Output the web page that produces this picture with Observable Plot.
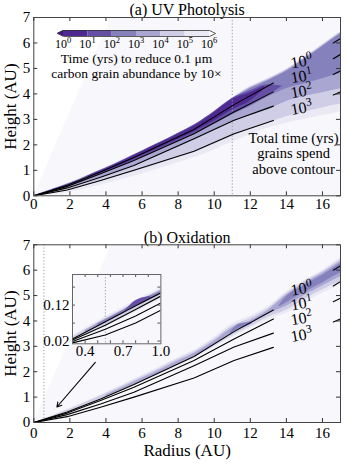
<!DOCTYPE html>
<html><head><meta charset="utf-8">
<script src="https://cdn.jsdelivr.net/npm/d3@7"></script>
<script src="https://cdn.jsdelivr.net/npm/@observablehq/plot@0.6"></script>
<style>
body{margin:0;background:#fff;}
#wrap{position:relative;width:348px;height:464px;overflow:hidden;font-family:"Liberation Serif","Times New Roman",serif;}
#wrap svg{position:absolute;font-family:"Liberation Serif","Times New Roman",serif;}
#wrap svg text{font-family:"Liberation Serif","Times New Roman",serif;}
</style></head><body><div id="wrap"></div>
<script>
// ---------- data ----------
const xTicks = [0,2,4,6,8,10,12,14,16];
const yTicks = [0,1,2,3,4,5,6,7];
const panelTitles = ["(a) UV Photolysis","(b) Oxidation"];

// contours of total time grains spend above contour (labels 10^0 ... 10^3)
const contourBase = "10";
const contourExps = ["0","1","2","3"];
const contourR = [0,1.85,3.7,5.55,8.88,11.1,13.28];
const contourZ = [
  [0,0.41,0.93,1.5,2.6,3.58,4.43],
  [0,0.37,0.87,1.39,2.44,3.29,4.08],
  [0,0.31,0.73,1.19,2.24,2.97,3.52],
  [0,0.23,0.6,1.0,1.75,2.44,2.96]
];
const stubR = [16.6,17];
const stubZ = [[6.0,6.17],[5.38,5.55],[4.76,4.9],[3.96,4.08]];
const labelR = [14.85,14.85,14.85,14.85];
const labelZ = [5.25,4.67,4.08,3.42];
const noteLines = ["Total time (yrs)","grains spend","above contour"];
const noteR = 14.4, noteZ = 1.66;

// region without data (upper left)
const noDataR = [0,4.3];
const noDataZ = [0,7];

// filled regions: time < 1e6, 1e5, 1e4, 1e3 ... (upper / lower edges)
const gridR = [0,1,2,3,4,5,6,7,8,9,10,11,12,13,14,15,16,17];
const uvUp6 = [0,0.26,0.52,0.82,1.12,1.45,1.78,2.12,2.48,2.85,3.32,3.85,4.3,4.62,4.98,5.45,5.95,6.45];
const uvLo6 = [0,0.06,0.14,0.3,0.47,0.66,0.86,1.07,1.3,1.52,1.8,2.1,2.4,2.66,2.85,3.0,3.15,3.3];
const uvUp5 = [0,0.25,0.5,0.8,1.1,1.43,1.76,2.1,2.46,2.83,3.3,3.83,4.27,4.59,4.95,5.42,5.92,6.42];
const uvLo5 = [0,0.1,0.22,0.42,0.61,0.82,1.03,1.26,1.49,1.72,2.02,2.32,2.6,2.86,3.1,3.28,3.45,3.6];
const uvUp4 = [0,0.245,0.49,0.79,1.09,1.42,1.75,2.09,2.45,2.82,3.28,3.8,4.24,4.56,4.92,5.39,5.89,6.39];
const uvLo4 = [0,0.15,0.32,0.56,0.78,1.02,1.3,1.6,1.9,2.22,2.55,2.88,3.15,3.38,3.7,3.9,4.05,4.2];
const uvUp3 = [0,0.24,0.48,0.78,1.08,1.41,1.74,2.08,2.44,2.8,3.26,3.78,4.2,4.52,4.88,5.35,5.85,6.35];
const uvLo3 = [0,0.19,0.4,0.66,0.92,1.2,1.49,1.8,2.11,2.44,2.8,3.17,3.5,3.88,4.2,4.4,4.6,4.8];
const uvR2 = [1,2,3,4,5,6,7,8,9,10,11,12,13,13.8];
const uvUp2 = [0.24,0.48,0.78,1.08,1.41,1.75,2.09,2.45,2.82,3.3,3.82,4.12,4.36,4.3];
const uvLo2 = [0.2,0.4,0.66,0.93,1.22,1.51,1.83,2.14,2.47,2.85,3.22,3.55,3.95,4.3];
const uvR1 = [3,4,5,6,7,8,9,10,11,12,12.8];
const uvUp1 = [0.77,1.06,1.39,1.73,2.07,2.42,2.78,3.26,3.78,4.05,4.3];
const uvLo1 = [0.7,0.97,1.26,1.57,1.89,2.21,2.55,2.94,3.37,3.72,4.2];

const oxUp6 = [0,0.27,0.56,0.87,1.18,1.52,1.86,2.2,2.56,2.9,3.36,3.9,4.2,4.58,5.15,5.6,6.0,6.5];
const oxLo6 = [0,0.2,0.42,0.7,0.98,1.27,1.58,1.9,2.22,2.55,2.95,3.35,3.7,4.05,4.3,4.72,5.08,5.42];
const oxUp5 = [0,0.25,0.52,0.83,1.14,1.47,1.8,2.14,2.5,2.83,3.28,3.8,4.1,4.5,5.08,5.54,5.94,6.42];
const oxLo5 = [0,0.21,0.44,0.72,1.0,1.3,1.61,1.94,2.27,2.6,3.0,3.42,3.78,4.15,4.42,4.85,5.22,5.55];
const oxR4 = [4,5,6,7,8,9,10,11,12,13,14,15,16,17];
const oxUp4 = [1.08,1.4,1.74,2.07,2.42,2.76,3.2,3.72,4.0,4.42,5.02,5.48,5.88,6.34];
const oxLo4 = [1.01,1.32,1.64,1.97,2.3,2.65,3.07,3.52,3.88,4.28,4.58,5.0,5.38,5.74];
const oxR3a = [13.6,14,15,16,17];
const oxUp3a = [4.62,4.95,5.4,5.8,6.26];
const oxLo3a = [4.55,4.72,5.12,5.5,5.9];
const oxR3b = [10.9,11.3,11.7,12.1];
const oxUp3b = [3.55,3.85,3.92,3.95];
const oxLo3b = [3.5,3.65,3.76,3.88];

const snowLine = [11, 0.56];
const arrowFrom = [3.41,2.37];
const arrowTo = [1.28,0.61];

// inset
const insetXTicks = [0.4,0.5,0.6,0.7,0.8,0.9];
const insetXLabels = [0.4,0.7,1.0];
const insetYTicks = [0.02,0.07,0.12,0.17];
const insetYLabels = [0.02,0.12];
const insetR = [0.3,0.56,0.8,1.0];
const insetZ = [
  [0.026,0.074,0.118,0.154],
  [0.023,0.064,0.108,0.145],
  [0.019,0.053,0.09,0.126],
  [0.015,0.037,0.07,0.106]
];
const inGrid = [0.3,0.4,0.5,0.6,0.7,0.8,0.9,1.0];
const inUp6 = [0.034,0.055,0.076,0.095,0.114,0.133,0.151,0.168];
const inLo6 = [0.02,0.035,0.05,0.066,0.082,0.1,0.118,0.135];
const inUp5 = [0.031,0.051,0.071,0.09,0.108,0.127,0.145,0.163];
const inLo5 = [0.023,0.039,0.055,0.071,0.089,0.108,0.127,0.145];
const inR4 = [0.4,0.5,0.6,0.7,0.8,0.9,1.0];
const inUp4 = [0.05,0.069,0.087,0.106,0.125,0.143,0.161];
const inLo4 = [0.041,0.059,0.077,0.096,0.114,0.132,0.15];
const inR3 = [0.5,0.6,0.7,0.8,0.9,1.0];
const inUp3 = [0.068,0.086,0.105,0.126,0.143,0.158];
const inLo3 = [0.062,0.08,0.099,0.118,0.136,0.154];
const inR2 = [0.72,0.8,0.88,0.92];
const inUp2 = [0.106,0.132,0.142,0.143];
const inLo2 = [0.104,0.118,0.132,0.14];

// colour bar (10^0 ... 10^6)
const cbLevels = [1,10,100,1e3,1e4,1e5,1e6];
const cbBase = "10";
const cbExps = ["0","1","2","3","4","5","6"];
const cbExtend = [0.56,1.78e6];
const cbCaption = ["Time (yrs) to reduce 0.1 μm","carbon grain abundance by 10×"];

(function(){
// ---------- styles ----------
const FONT = "Liberation Serif";
const pal = {bg:"#f8f7fb", under:"#3f1580", c:["#4f2a92","#6650a6","#8481bd","#a9a7d2","#cfcee6","#ebeaf4"], over:"#fcfbfd"};
const W = 348;

function band(xs, up, lo){ return xs.map((x,i)=>({x, y1:lo[i], y2:up[i]})); }
function pts(xs, ys){ return xs.map((x,i)=>({x, y:ys[i]})); }
function area(xs, up, lo, fill){ return Plot.areaY(band(xs,up,lo), {x:"x", y1:"y1", y2:"y2", fill, clip:true, curve:"monotone-x"}); }
function frameTicks(xt, yt, fw, fh, len, stroke){
  return [
    Plot.tickX(xt,{x:d=>d, insetTop: fh-len, stroke}),
    Plot.tickX(xt,{x:d=>d, insetBottom: fh-len, stroke}),
    Plot.tickY(yt,{y:d=>d, insetRight: fw-len, stroke}),
    Plot.tickY(yt,{y:d=>d, insetLeft: fw-len, stroke})
  ];
}
function contourMarks(){
  const m = [];
  contourZ.forEach(zs => m.push(Plot.line(pts(contourR, zs), {x:"x", y:"y", stroke:"black", strokeWidth:1.1, clip:true})));
  stubZ.forEach(zs => m.push(Plot.line(pts(stubR, zs), {x:"x", y:"y", stroke:"black", strokeWidth:1.1, clip:true})));
  const lab = contourExps.map((e,i)=>({e, x:labelR[i], y:labelZ[i]}));
  m.push(Plot.text(lab, {x:"x", y:"y", text:()=>contourBase, rotate:-10, fontSize:16, fontFamily:FONT, dx:-3, textAnchor:"middle"}));
  m.push(Plot.text(lab, {x:"x", y:"y", text:"e", rotate:-10, fontSize:11.5, fontFamily:FONT, dx:4.2, dy:-6.2, textAnchor:"start"}));
  return m;
}

function mainPanel(k, H, mt, mb){
  const ml = 33.3, mr = 8;
  const fw = W-ml-mr, fh = H-mt-mb;
  const isUV = k === 0;
  const marks = [
    Plot.frame({fill:pal.bg, stroke:null}),
    Plot.areaY(noDataR.map((r,i)=>({r, lo:noDataZ[i], hi:7})), {x:"r", y1:"lo", y2:"hi", fill:"#ffffff"})
  ];
  if (isUV) {
    marks.push(area(gridR, uvUp6, uvLo6, pal.c[5]), area(gridR, uvUp5, uvLo5, pal.c[4]),
      area(gridR, uvUp4, uvLo4, pal.c[3]), area(gridR, uvUp3, uvLo3, pal.c[2]),
      area(uvR2, uvUp2, uvLo2, pal.c[1]), area(uvR1, uvUp1, uvLo1, pal.c[0]));
  } else {
    marks.push(area(gridR, oxUp6, oxLo6, pal.c[5]), area(gridR, oxUp5, oxLo5, pal.c[4]),
      area(oxR4, oxUp4, oxLo4, pal.c[3]), area(oxR3a, oxUp3a, oxLo3a, pal.c[2]),
      area(oxR3b, oxUp3b, oxLo3b, pal.c[2]));
  }
  marks.push(Plot.ruleX([snowLine[k]], {stroke:"#9a9a9a", strokeDasharray:"1.2,2"}));
  marks.push(...contourMarks());
  if (isUV) {
    marks.push(Plot.text([noteLines.join("\n")], {x:()=>noteR, y:()=>noteZ, fontSize:14.5, fontFamily:FONT, lineHeight:1.05, lineAnchor:"middle"}));
  } else {
    marks.push(Plot.arrow([{x1:arrowFrom[0], y1:arrowFrom[1], x2:arrowTo[0], y2:arrowTo[1]}],
      {x1:"x1", y1:"y1", x2:"x2", y2:"y2", stroke:"black", strokeWidth:1.1, headLength:7}));
    marks.push(Plot.text(["Radius (AU)"], {frameAnchor:"bottom", dy:28, fontSize:17, fontFamily:FONT, lineAnchor:"middle"}));
  }
  marks.push(...frameTicks(xTicks, yTicks, fw, fh, 4, "#333"));
  marks.push(Plot.axisX(xTicks, {tickSize:0, tickPadding: isUV ? 3 : 4.5, fontSize:15, fontFamily:FONT, label:null}));
  marks.push(Plot.axisY(yTicks, {tickSize:0, tickPadding:3.5, fontSize:15, fontFamily:FONT, label:null}));
  marks.push(Plot.text(["Height (AU)"], {frameAnchor:"left", dx:-23, rotate:-90, fontSize:17, fontFamily:FONT, textAnchor:"middle", lineAnchor:"middle"}));
  marks.push(Plot.text([panelTitles[k]], {frameAnchor:"top", dy: isUV ? -8 : -7.3, fontSize:16, fontFamily:FONT, lineAnchor:"middle"}));
  marks.push(Plot.frame({stroke:"#444"}));
  return Plot.plot({
    width:W, height:H, marginTop:mt, marginBottom:mb, marginLeft:ml, marginRight:mr,
    x:{domain:[0,17]}, y:{domain:[0,7]},
    style:{fontSize:"15px", background:"transparent", color:"black", overflow:"visible"},
    marks
  });
}

const wrap = document.getElementById("wrap");
const topPanel = mainPanel(0, 226, 17, 30.7);
topPanel.style.left = "0px"; topPanel.style.top = "0px";
wrap.appendChild(topPanel);
const botPanel = mainPanel(1, 238, 18.3, 42);
botPanel.style.left = "0px"; botPanel.style.top = "226px";
wrap.appendChild(botPanel);

// colour bar
const cbRects = cbLevels.slice(0,-1).map((v,i)=>({x1:v, x2:cbLevels[i+1], c:pal.c[i]}));
const cbOutline = [{x:cbExtend[0],y:0.5},{x:1,y:1},{x:1e6,y:1},{x:cbExtend[1],y:0.5},{x:1e6,y:0},{x:1,y:0},{x:cbExtend[0],y:0.5}];
const cbLab = cbLevels.map((v,i)=>({v, e:cbExps[i]}));
const cb = Plot.plot({
  width:166, height:62, marginLeft:10, marginRight:10, marginTop:7, marginBottom:49,
  x:{type:"log", domain:[1,1e6], axis:null}, y:{domain:[0,1], axis:null},
  style:{fontSize:"13px", background:"transparent", color:"black", overflow:"visible"},
  marks:[
    Plot.rect(cbRects, {x1:"x1", x2:"x2", y1:()=>0, y2:()=>1, fill:"c"}),
    Plot.areaY([{x:cbExtend[0],a:0.5,b:0.5},{x:1,a:0,b:1}], {x:"x", y1:"a", y2:"b", fill:pal.under}),
    Plot.areaY([{x:1e6,a:0,b:1},{x:cbExtend[1],a:0.5,b:0.5}], {x:"x", y1:"a", y2:"b", fill:pal.over}),
    Plot.line(cbOutline, {x:"x", y:"y", stroke:"#333", strokeWidth:0.8}),
    Plot.text(cbLab, {x:"v", frameAnchor:"bottom", text:()=>cbBase, fontSize:12, fontFamily:FONT, dx:-2.5, dy:7.5, lineAnchor:"middle", textAnchor:"middle"}),
    Plot.text(cbLab, {x:"v", frameAnchor:"bottom", text:"e", fontSize:8.5, fontFamily:FONT, dx:3.6, dy:3.8, lineAnchor:"middle", textAnchor:"start"}),
    Plot.text([cbCaption.join("\n")], {frameAnchor:"bottom", dy:29.5, fontSize:13.5, fontFamily:FONT, lineHeight:1.11, lineAnchor:"middle"})
  ]
});
cb.style.left = "52.7px"; cb.style.top = "23px";
wrap.appendChild(cb);

// inset
const iml = 40, imr = 6, imt = 6, imb = 24;
const ifw = 88.4, ifh = 69.3;
const inMarks = [
  Plot.frame({fill:pal.bg, stroke:null}),
  area(inGrid, inUp6, inLo6, pal.c[5]), area(inGrid, inUp5, inLo5, pal.c[4]),
  area(inR4, inUp4, inLo4, pal.c[3]), area(inR3, inUp3, inLo3, pal.c[2]),
  area(inR2, inUp2, inLo2, pal.c[1]),
  Plot.ruleX([snowLine[1]], {stroke:"#9a9a9a", strokeDasharray:"1.2,2"})
];
insetZ.forEach(zs => inMarks.push(Plot.line(pts(insetR, zs), {x:"x", y:"y", stroke:"black", strokeWidth:1.1, clip:true})));
inMarks.push(...frameTicks(insetXTicks, insetYTicks, ifw, ifh, 3, "#555"));
inMarks.push(Plot.axisX(insetXLabels, {tickSize:0, tickPadding:2, fontSize:15, fontFamily:FONT, label:null, tickFormat:d3.format(".1f")}));
inMarks.push(Plot.axisY(insetYLabels, {tickSize:0, tickPadding:3, fontSize:15, fontFamily:FONT, label:null, tickFormat:d3.format(".2f")}));
inMarks.push(Plot.frame({stroke:"#666"}));
const inset = Plot.plot({
  width:iml+ifw+imr, height:imt+ifh+imb, marginLeft:iml, marginRight:imr, marginTop:imt, marginBottom:imb,
  x:{domain:[0.3,1.0]}, y:{domain:[0.0125,0.205]},
  style:{fontSize:"15px", background:"transparent", color:"black", overflow:"visible"},
  marks: inMarks
});
inset.style.left = (72.3-iml)+"px"; inset.style.top = (273.7-imt)+"px";
wrap.appendChild(inset);
})();
</script></body></html>
